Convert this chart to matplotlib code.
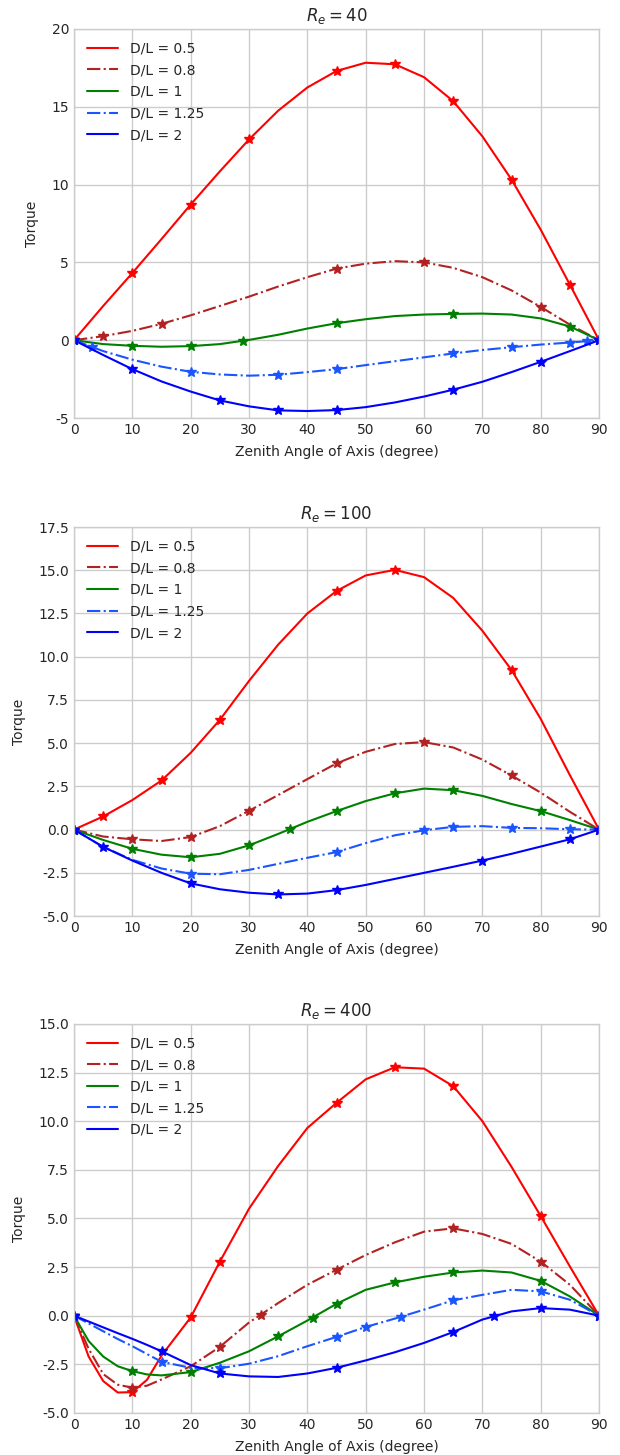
import numpy as np
import matplotlib
matplotlib.use("Agg")
import matplotlib.pyplot as plt

plt.style.use("seaborn-v0_8-whitegrid")
plt.rcParams["font.family"] = ["DejaVu Sans"]

labels = ["D/L = 0.5", "D/L = 0.8", "D/L = 1", "D/L = 1.25", "D/L = 2"]

# ---- Re = 40 : curves read every 5 degrees ----
ang40 = [0, 5, 10, 15, 20, 25, 30, 35, 40, 45, 50, 55, 60, 65, 70, 75, 80, 85, 90]
re40_d05 = [0, 2.2, 4.32, 6.5, 8.72, 10.85, 12.9, 14.75, 16.24, 17.3, 17.83, 17.73, 16.9, 15.36, 13.1, 10.32, 7.1, 3.57, 0]
re40_d08 = [0, 0.26, 0.6, 1.05, 1.6, 2.2, 2.8, 3.45, 4.05, 4.6, 4.92, 5.08, 5.0, 4.65, 4.05, 3.2, 2.14, 1.0, 0]
re40_d1 = [0, -0.25, -0.36, -0.42, -0.38, -0.25, 0.02, 0.35, 0.75, 1.09, 1.35, 1.55, 1.65, 1.69, 1.71, 1.65, 1.4, 0.88, 0]
re40_d125 = [0, -0.7, -1.25, -1.7, -2.03, -2.2, -2.28, -2.22, -2.05, -1.86, -1.6, -1.35, -1.1, -0.85, -0.63, -0.45, -0.28, -0.15, 0]
re40_d2 = [0, -0.95, -1.86, -2.65, -3.3, -3.87, -4.25, -4.51, -4.55, -4.49, -4.3, -4.0, -3.62, -3.18, -2.67, -2.05, -1.39, -0.7, 0]
# markers
re40_mk_x = [[0, 10, 20, 30, 45, 55, 65, 75, 85, 90],
             [0, 5, 15, 45, 60, 80, 90],
             [0, 10, 20, 29, 45, 65, 85, 90],
             [0, 3, 20, 35, 45, 65, 75, 85, 88, 90],
             [0, 10, 25, 35, 45, 65, 80, 90]]
re40_mk_y = [[0, 4.32, 8.72, 12.9, 17.3, 17.73, 15.36, 10.32, 3.57, 0],
             [0, 0.26, 1.05, 4.6, 5.0, 2.14, 0],
             [0, -0.36, -0.38, -0.04, 1.09, 1.69, 0.88, 0],
             [0, -0.45, -2.03, -2.22, -1.86, -0.85, -0.45, -0.15, -0.06, 0],
             [0, -1.86, -3.87, -4.51, -4.49, -3.18, -1.39, 0]]

# ---- Re = 100 ----
ang100 = [0, 5, 10, 15, 20, 25, 30, 35, 40, 45, 50, 55, 60, 65, 70, 75, 80, 85, 90]
re100_d05 = [0, 0.76, 1.71, 2.84, 4.44, 6.35, 8.6, 10.7, 12.5, 13.8, 14.7, 15.02, 14.6, 13.4, 11.5, 9.23, 6.4, 3.15, 0]
re100_d08 = [0, -0.4, -0.56, -0.66, -0.43, 0.2, 1.09, 2.0, 2.92, 3.83, 4.5, 4.95, 5.06, 4.75, 4.05, 3.13, 2.14, 1.03, 0]
re100_d1 = [0, -0.6, -1.11, -1.45, -1.6, -1.4, -0.91, -0.25, 0.45, 1.07, 1.65, 2.1, 2.37, 2.28, 1.95, 1.48, 1.07, 0.55, 0]
re100_d125 = [0, -1.0, -1.75, -2.25, -2.55, -2.58, -2.33, -1.98, -1.63, -1.3, -0.78, -0.33, -0.04, 0.16, 0.2, 0.1, 0.08, 0.02, 0]
re100_d2 = [0, -1.0, -1.79, -2.5, -3.11, -3.45, -3.65, -3.75, -3.7, -3.5, -3.2, -2.85, -2.5, -2.15, -1.79, -1.4, -0.98, -0.56, 0]
re100_mk_x = [[0, 5, 15, 25, 45, 55, 75, 90],
              [0, 10, 20, 30, 45, 60, 75, 90],
              [0, 10, 20, 30, 37, 45, 55, 65, 80, 90],
              [0, 20, 45, 60, 65, 75, 85, 90],
              [0, 5, 20, 35, 45, 70, 85, 90]]
re100_mk_y = [[0, 0.76, 2.84, 6.35, 13.8, 15.02, 9.23, 0],
              [0, -0.56, -0.43, 1.09, 3.83, 5.06, 3.13, 0],
              [0, -1.11, -1.6, -0.91, 0.04, 1.07, 2.1, 2.28, 1.07, 0],
              [0, -2.57, -1.3, -0.04, 0.16, 0.1, 0.02, 0],
              [0, -1.0, -3.11, -3.75, -3.5, -1.79, -0.56, 0]]

# ---- Re = 400 (finer near the origin) ----
ang400 = [0, 2.5, 5, 7.5, 10, 12.5, 15, 20, 25, 30, 35, 40, 45, 50, 55, 60, 65, 70, 75, 80, 85, 90]
re400_d05 = [0, -2.1, -3.36, -3.95, -3.93, -3.3, -2.05, -0.09, 2.78, 5.5, 7.7, 9.65, 10.94, 12.15, 12.77, 12.7, 11.8, 10.0, 7.65, 5.12, 2.53, 0]
re400_d08 = [0, -1.7, -3.0, -3.55, -3.7, -3.6, -3.28, -2.6, -1.6, -0.35, 0.65, 1.59, 2.36, 3.12, 3.77, 4.32, 4.49, 4.2, 3.69, 2.78, 1.59, 0]
re400_d1 = [0, -1.3, -2.1, -2.6, -2.85, -3.02, -3.07, -2.9, -2.42, -1.83, -1.06, -0.25, 0.61, 1.33, 1.71, 2.0, 2.22, 2.32, 2.22, 1.79, 0.99, 0]
re400_d125 = [0, -0.4, -0.8, -1.2, -1.57, -1.97, -2.37, -2.68, -2.7, -2.47, -2.08, -1.57, -1.09, -0.58, -0.15, 0.31, 0.79, 1.07, 1.33, 1.25, 0.82, 0]
re400_d2 = [0, -0.3, -0.6, -0.9, -1.19, -1.5, -1.83, -2.54, -2.97, -3.12, -3.15, -2.97, -2.68, -2.3, -1.88, -1.4, -0.84, -0.2, 0.22, 0.39, 0.31, 0]
re400_mk_x = [[0, 10, 20, 25, 45, 55, 65, 80, 90],
              [0, 10, 25, 32, 45, 65, 80, 90],
              [0, 10, 20, 35, 41, 45, 55, 65, 80, 90],
              [0, 15, 25, 45, 50, 56, 65, 80, 90],
              [0, 15, 25, 45, 65, 72, 80, 90]]
re400_mk_y = [[0, -3.93, -0.09, 2.78, 10.94, 12.77, 11.8, 5.12, 0],
              [0, -3.7, -1.6, 0.02, 2.36, 4.49, 2.78, 0],
              [0, -2.85, -2.9, -1.06, -0.12, 0.61, 1.71, 2.22, 1.79, 0],
              [0, -2.37, -2.7, -1.09, -0.58, -0.07, 0.79, 1.25, 0],
              [0, -1.83, -2.97, -2.68, -0.84, 0.0, 0.39, 0]]

colors = ["#ff0000", "#b22222", "#008000", "#1a55ff", "#0000ff"]
styles = ["-", "-.", "-", "-.", "-"]

panels = [
    ("$R_e = 40$", ang40, [re40_d05, re40_d08, re40_d1, re40_d125, re40_d2], re40_mk_x, re40_mk_y, (-5, 20), 5, "%d"),
    ("$R_e = 100$", ang100, [re100_d05, re100_d08, re100_d1, re100_d125, re100_d2], re100_mk_x, re100_mk_y, (-5, 17.5), 2.5, "%.1f"),
    ("$R_e = 400$", ang400, [re400_d05, re400_d08, re400_d1, re400_d125, re400_d2], re400_mk_x, re400_mk_y, (-5, 15), 2.5, "%.1f"),
]

fig = plt.figure(figsize=(6.2, 14.55), dpi=100)
bottoms = [0.7127, 0.3704, 0.0289]

for (title, ang, curves, mkx, mky, ylim, step, fmt), b in zip(panels, bottoms):
    ax = fig.add_axes([0.1194, b, 0.8468, 0.2674])
    for i in range(5):
        ax.plot(ang, curves[i], color=colors[i], linestyle=styles[i], lw=1.5, label=labels[i])
        ax.plot(mkx[i], mky[i], linestyle="none", marker="*", ms=7, color=colors[i])
    ax.set_xlim(0, 90)
    ax.set_ylim(*ylim)
    ax.set_xticks(np.arange(0, 91, 10))
    ax.set_yticks(np.arange(ylim[0], ylim[1] + 0.01, step))
    ax.yaxis.set_major_formatter(matplotlib.ticker.FormatStrFormatter(fmt))
    ax.tick_params(labelsize=10, length=0)
    ax.grid(True, color="0.8", lw=1)
    for s in ax.spines.values():
        s.set_color("0.8")
    ax.set_title(title, fontsize=12)
    ax.set_xlabel("Zenith Angle of Axis (degree)", fontsize=10, labelpad=6)
    ax.set_ylabel("Torque", fontsize=10, labelpad=9)
    ax.legend(loc="upper left", frameon=False, fontsize=10, handlelength=2.3, labelspacing=0.55)

fig.savefig("out.png", dpi=100)
